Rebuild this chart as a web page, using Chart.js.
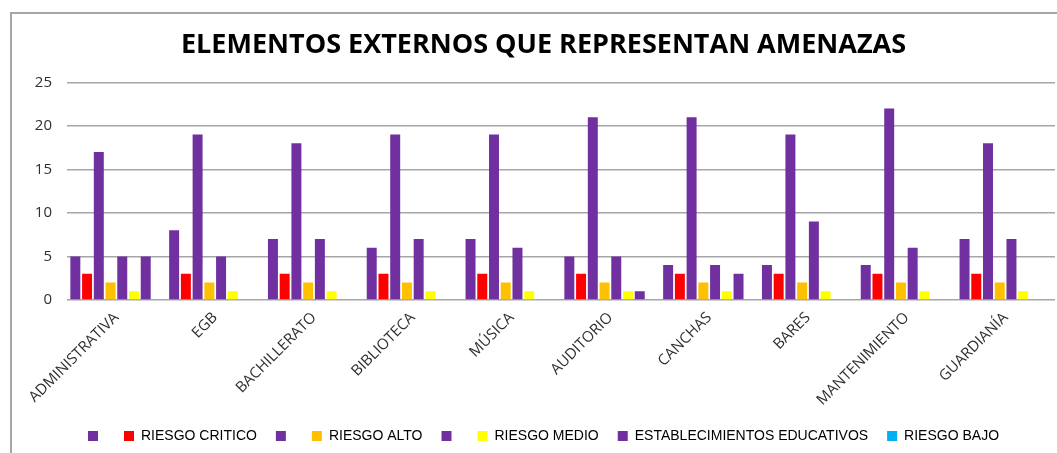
<!DOCTYPE html>
<html>
<head>
<meta charset="utf-8">
<script src="https://cdn.jsdelivr.net/npm/chart.js@4.4.0/dist/chart.umd.min.js"></script>
<style>
  html, body { margin: 0; padding: 0; background: #fff; }
  #contenedor { position: relative; width: 1057px; height: 453px; }
</style>
</head>
<body>
<div id="contenedor"><canvas id="graficoAmenazas"></canvas></div>
<script>
const areas = ["ADMINISTRATIVA", "EGB", "BACHILLERATO", "BIBLIOTECA", "MÚSICA",
    "AUDITORIO", "CANCHAS", "BARES", "MANTENIMIENTO", "GUARDIANÍA"];

const serie1 = [5, 8, 7, 6, 7, 5, 4, 4, 4, 7];
const riesgoCritico = [3, 3, 3, 3, 3, 3, 3, 3, 3, 3];
const serie3 = [17, 19, 18, 19, 19, 21, 21, 19, 22, 18];
const riesgoAlto = [2, 2, 2, 2, 2, 2, 2, 2, 2, 2];
const serie5 = [5, 5, 7, 7, 6, 5, 4, 9, 6, 7];
const riesgoMedio = [1, 1, 1, 1, 1, 1, 1, 1, 1, 1];
const establecimientos = [5, 0, 0, 0, 0, 1, 3, 0, 0, 0];
const riesgoBajo = [0, 0, 0, 0, 0, 0, 0, 0, 0, 0];

const nombresSeries = ["", "RIESGO CRITICO", "", "RIESGO ALTO", "", "RIESGO MEDIO",
    "ESTABLECIMIENTOS EDUCATIVOS", "RIESGO BAJO"];

const morado = "#7030A0";
const colores = [morado, "#FF0000", morado, "#FFC000", morado, "#FFFF00", morado, "#00B0F0"];

// marco gris de la hoja (borde superior e izquierdo)
const marcoHoja = {
    id: 'marcoHoja',
    beforeDraw(chart) {
        const c = chart.ctx;
        c.save();
        c.strokeStyle = "#a6a6a6";
        c.lineWidth = 2;
        c.beginPath();
        c.moveTo(11, chart.height);
        c.lineTo(11, 13);
        c.lineTo(chart.width, 13);
        c.stroke();
        c.restore();
    }
};

function crearGrafico(canvasId) {
    const ctx = document.getElementById(canvasId);
    if (!ctx) {
        console.log("No se encontró el contenedor " + canvasId);
        return;
    }

    const valores = [serie1, riesgoCritico, serie3, riesgoAlto, serie5, riesgoMedio, establecimientos, riesgoBajo];

    const datasets = valores.map((data, i) => ({
        label: nombresSeries[i],
        data: data,
        backgroundColor: colores[i],
        borderWidth: 0,
        categoryPercentage: 0.95,
        barPercentage: 0.85
    }));

    new Chart(ctx, {
        type: 'bar',
        data: { labels: areas, datasets: datasets },
        plugins: [marcoHoja],
        options: {
            responsive: true,
            maintainAspectRatio: false,
            animation: false,
            layout: { padding: { top: 18, left: 32, right: 2, bottom: 0 } },
            plugins: {
                title: {
                    display: true,
                    text: 'ELEMENTOS EXTERNOS QUE REPRESENTAN AMENAZAS',
                    color: '#000',
                    font: { family: 'Open Sans', size: 27, weight: 'bold' },
                    padding: { top: 11, bottom: 21 }
                },
                legend: {
                    position: 'bottom',
                    labels: {
                        boxWidth: 10,
                        boxHeight: 10,
                        padding: 19,
                        color: '#000',
                        font: { family: 'Liberation Sans', size: 14 }
                    }
                },
                tooltip: { enabled: false }
            },
            scales: {
                x: {
                    grid: { display: false },
                    border: { display: false },
                    ticks: {
                        color: '#303030',
                        maxRotation: 45,
                        minRotation: 45,
                        autoSkip: false,
                        padding: 1,
                        font: { family: 'Open Sans', size: 15 }
                    }
                },
                y: {
                    min: 0,
                    max: 25,
                    border: { display: false },
                    grid: { color: '#a6a6a6', lineWidth: 1.5, drawTicks: false },
                    afterFit: function (scale) {
                        scale.width = 35;
                    },
                    ticks: {
                        stepSize: 5,
                        padding: 15,
                        color: '#303030',
                        font: { family: 'Open Sans', size: 15 }
                    }
                }
            }
        }
    });
}

crearGrafico('graficoAmenazas');
</script>
</body>
</html>
